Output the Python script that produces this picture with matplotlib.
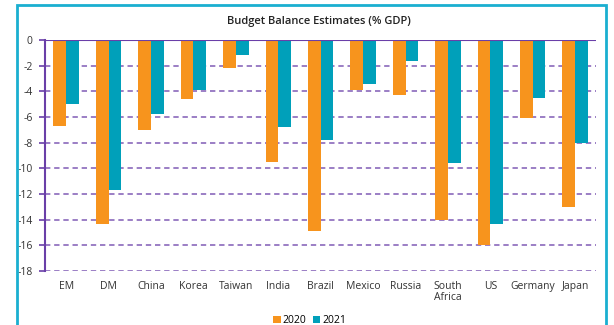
import numpy as np
import matplotlib.pyplot as plt
from matplotlib.patches import Rectangle

countries = ["EM", "DM", "China", "Korea", "Taiwan", "India", "Brazil",
             "Mexico", "Russia", "South\nAfrica", "US", "Germany", "Japan"]
bal_2020 = [-6.7, -14.3, -7.0, -4.6, -2.2, -9.5, -14.9, -3.9, -4.3, -14.0, -16.0, -6.1, -13.0]
bal_2021 = [-5.0, -11.7, -5.8, -3.9, -1.2, -6.8, -7.8, -3.4, -1.6, -9.6, -14.3, -4.5, -8.0]
yticks = [0, -2, -4, -6, -8, -10, -12, -14, -16, -18]

ORANGE = "#F7941D"
TEAL = "#00A0BA"
PURPLE = "#6A3FA8"

plt.rcParams['font.family'] = ['Open Sans', 'DejaVu Sans']

fig = plt.figure(figsize=(6.14, 3.25), dpi=100)
ax = fig.add_axes([0.0733, 0.166, 0.898, 0.711])

x = np.arange(len(countries))
w = 0.3
ax.bar(x - w/2, bal_2020, width=w, color=ORANGE, label="2020", zorder=3)
ax.bar(x + w/2, bal_2021, width=w, color=TEAL, label="2021", zorder=3)

ax.set_xlim(-0.5, len(countries) - 0.5)
ax.set_ylim(-18, 0)
ax.set_yticks(yticks)
ax.set_yticklabels(["%d" % t for t in yticks], fontsize=7.5, color="#333333")
ax.set_xticks(x)
ax.set_xticklabels(countries, fontsize=7.5, color="#333333", linespacing=1.0)
ax.tick_params(axis='x', length=0, pad=7)
ax.tick_params(axis='y', length=4, width=1.2, color=PURPLE, pad=5)

for t in yticks[1:]:
    ax.axhline(t, color=PURPLE, lw=1.1, ls=(0, (3.5, 2.5)), alpha=0.85, zorder=1)
ax.axhline(0, color=PURPLE, lw=1.5, zorder=4)

for s in ["top", "right", "bottom"]:
    ax.spines[s].set_visible(False)
ax.spines["left"].set_color(PURPLE)
ax.spines["left"].set_linewidth(1.5)

fig.text(0.52, 0.935, "Budget Balance Estimates (% GDP)", ha="center", va="center",
         fontsize=8, color="#222222", fontweight="semibold")

ax.legend(loc="center", bbox_to_anchor=(0.48, -0.215), ncol=2, frameon=False,
          fontsize=7.5, handlelength=0.7, handleheight=0.7, handletextpad=0.2,
          columnspacing=0.6)

fig.patches.append(Rectangle((17/614, -0.05), 589/614, 1.0 - 5/325 + 0.05,
                             transform=fig.transFigure, fill=False,
                             edgecolor="#1AAFD0", lw=2))

fig.savefig("out.png", dpi=100)
